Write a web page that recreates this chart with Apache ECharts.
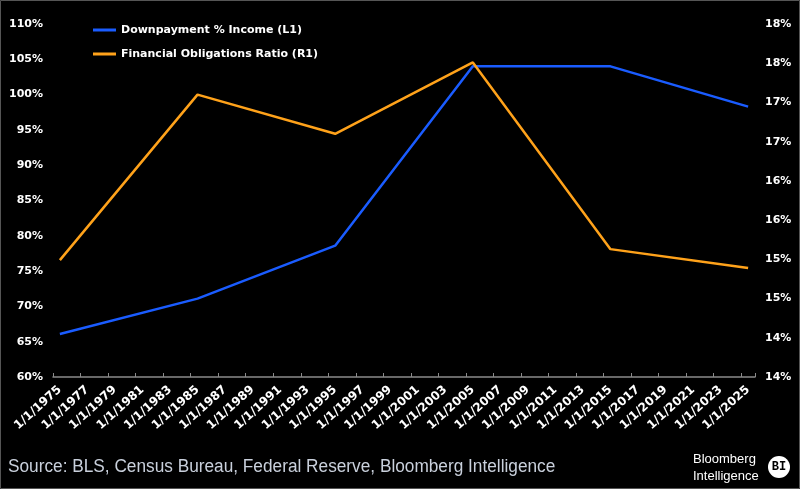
<!DOCTYPE html>
<html>
<head>
<meta charset="utf-8">
<script src="https://cdn.jsdelivr.net/npm/echarts@6/dist/echarts.min.js"></script>
<style>
html,body{margin:0;padding:0;background:#000;}
#c{width:800px;height:489px;}
</style>
</head>
<body>
<div id="c"></div>
<script>
const firstYear = 1975;
const lastYear = 2025;
const pointYears = [1975, 1985, 1995, 2005, 2015, 2025];
const downpaymentPct = [66.1, 71.1, 78.6, 104.0, 104.0, 98.3];
const financialObligations = [15.49, 17.60, 17.10, 18.01, 15.63, 15.39];
const leftTicks = {min: 60, max: 110, interval: 5};
const rightTicks = {min: 14, max: 18.5, interval: 0.5};
const sourceText = 'Source: BLS, Census Bureau, Federal Reserve, Bloomberg Intelligence';

const categories = [];
for (let y = firstYear; y <= lastYear; y++) categories.push(y);
function toSeries(vals) {
  return categories.map(y => {
    const i = pointYears.indexOf(y);
    return i >= 0 ? vals[i] : null;
  });
}

const chart = echarts.init(document.getElementById('c'));
const lab = {color: '#fff', fontFamily: 'DejaVu Sans', fontWeight: 'bold', fontSize: 11};
chart.setOption({
  backgroundColor: '#000',
  animation: false,
  grid: {left: 53, right: 45, top: 24, bottom: 112},
  legend: {
    orient: 'vertical', left: 88, top: 18, itemWidth: 23, itemHeight: 3, itemGap: 10,
    icon: 'rect',
    textStyle: {color: '#fff', fontFamily: 'DejaVu Sans', fontWeight: 'bold', fontSize: 11, lineHeight: 14},
    data: ['Downpayment % Income (L1)', 'Financial Obligations Ratio (R1)']
  },
  xAxis: {
    type: 'category', data: categories, boundaryGap: true,
    axisLine: {lineStyle: {color: '#8a8a8a', width: 1.5}},
    axisTick: {show: true, inside: true, length: 4, interval: 1, lineStyle: {color: '#8a8a8a', width: 1}},
    axisLabel: Object.assign({}, lab, {fontSize: 12, rotate: 42, interval: 1, margin: 11, formatter: v => '1/1/' + v})
  },
  yAxis: [{
    type: 'value', position: 'left', min: leftTicks.min, max: leftTicks.max, interval: leftTicks.interval,
    splitLine: {show: false}, axisLine: {show: false}, axisTick: {show: false},
    axisLabel: Object.assign({}, lab, {margin: 10, formatter: v => v + '%'})
  }, {
    type: 'value', position: 'right', min: rightTicks.min, max: rightTicks.max, interval: rightTicks.interval,
    splitLine: {show: false}, axisLine: {show: false}, axisTick: {show: false},
    axisLabel: Object.assign({}, lab, {margin: 10, formatter: v => Math.floor(v + 1e-9) + '%'})
  }],
  series: [{
    name: 'Downpayment % Income (L1)', type: 'line', yAxisIndex: 0,
    data: toSeries(downpaymentPct), connectNulls: true, showSymbol: false,
    color: '#1a5cff', lineStyle: {color: '#1a5cff', width: 2.5}
  }, {
    name: 'Financial Obligations Ratio (R1)', type: 'line', yAxisIndex: 1,
    data: toSeries(financialObligations), connectNulls: true, showSymbol: false,
    color: '#ffa21a', lineStyle: {color: '#ffa21a', width: 2.5}
  }],
  graphic: [
    {type: 'rect', shape: {x: 0.5, y: 0.5, width: 799, height: 488}, style: {fill: 'none', stroke: '#555', lineWidth: 1}, silent: true},
    {type: 'text', x: 8, y: 458, scaleX: 0.958, style: {text: sourceText, fill: '#c9d0dc', font: '18px "Liberation Sans Narrow", "Liberation Sans", sans-serif'}},
    {type: 'text', left: 693, top: 451, style: {text: 'Bloomberg\nIntelligence', fill: '#fff', font: '13px "Liberation Sans Narrow", "Liberation Sans", sans-serif', lineHeight: 17}},
    {type: 'circle', shape: {cx: 779, cy: 467, r: 11}, style: {fill: '#fff'}},
    {type: 'text', x: 779, y: 467, style: {text: 'BI', fill: '#000', font: 'bold 12px "Liberation Mono", "DejaVu Sans Mono", monospace', align: 'center', verticalAlign: 'middle'}}
  ]
});
</script>
</body>
</html>
